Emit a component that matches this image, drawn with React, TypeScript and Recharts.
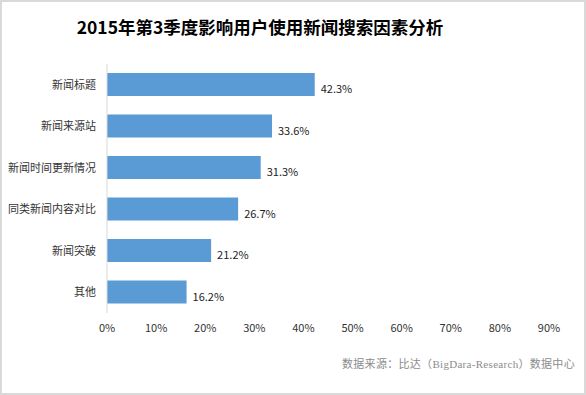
import React from 'react';
import { BarChart, Bar, XAxis, YAxis, LabelList } from 'recharts';

const categories = ['新闻标题', '新闻来源站', '新闻时间更新情况', '同类新闻内容对比', '新闻突破', '其他'];
const shares = [42.3, 33.6, 31.3, 26.7, 21.2, 16.2];
const xTicks = [0, 10, 20, 30, 40, 50, 60, 70, 80, 90];

const data = categories.map((name, i) => ({ name, value: shares[i] }));

const font = '"Noto Sans CJK SC", "Microsoft YaHei", sans-serif';

const App: React.FC = () => {
  return (
    <div
      style={{
        position: 'absolute',
        left: 0,
        top: 0,
        width: 586,
        height: 395,
        background: '#fff',
        fontFamily: font,
      }}
    >
      <div
        style={{
          position: 'absolute',
          left: 0,
          top: 0,
          width: 582,
          height: 391,
          border: '2px solid #d9d9d9',
        }}
      />
      <div
        style={{
          position: 'absolute',
          left: 0,
          width: 520,
          top: 14,
          textAlign: 'center',
          fontSize: 17.5,
          fontWeight: 'bold',
          color: '#000',
          lineHeight: '26px',
        }}
      >
        2015年第3季度影响用户使用新闻搜索因素分析
      </div>
      <BarChart
        width={586}
        height={395}
        data={data}
        layout="vertical"
        margin={{ top: 64, right: 37, bottom: 52, left: 7 }}
        barSize={23}
      >
        <XAxis
          type="number"
          domain={[0, 90]}
          ticks={xTicks}
          height={30}
          tickFormatter={(v: number) => `${v}%`}
          axisLine={false}
          tickLine={false}
          tickMargin={5}
          interval={0}
          tick={{ fontSize: 11, fill: '#333', fontFamily: font }}
        />
        <YAxis
          type="category"
          dataKey="name"
          width={100}
          axisLine={{ stroke: '#d9d9d9' }}
          tickLine={false}
          tickMargin={5}
          interval={0}
          tick={{ fontSize: 11, fill: '#333', fontFamily: font }}
        />
        <Bar dataKey="value" fill="#5b9bd5" isAnimationActive={false}>
          <LabelList
            dataKey="value"
            position="right"
            offset={6}
            formatter={(v: number) => `${v}%`}
            style={{ fontSize: 11, fill: '#222', fontFamily: font }}
            dy={5}
          />
        </Bar>
      </BarChart>
      <div
        style={{
          position: 'absolute',
          left: 342,
          top: 355,
          fontSize: 11,
          letterSpacing: 0.3,
          color: '#8c8c8c',
          fontFamily: '"Liberation Serif", "Noto Sans CJK SC", serif',
          whiteSpace: 'nowrap',
        }}
      >
        数据来源：比达（BigDara-Research）数据中心
      </div>
    </div>
  );
};

export default App;
